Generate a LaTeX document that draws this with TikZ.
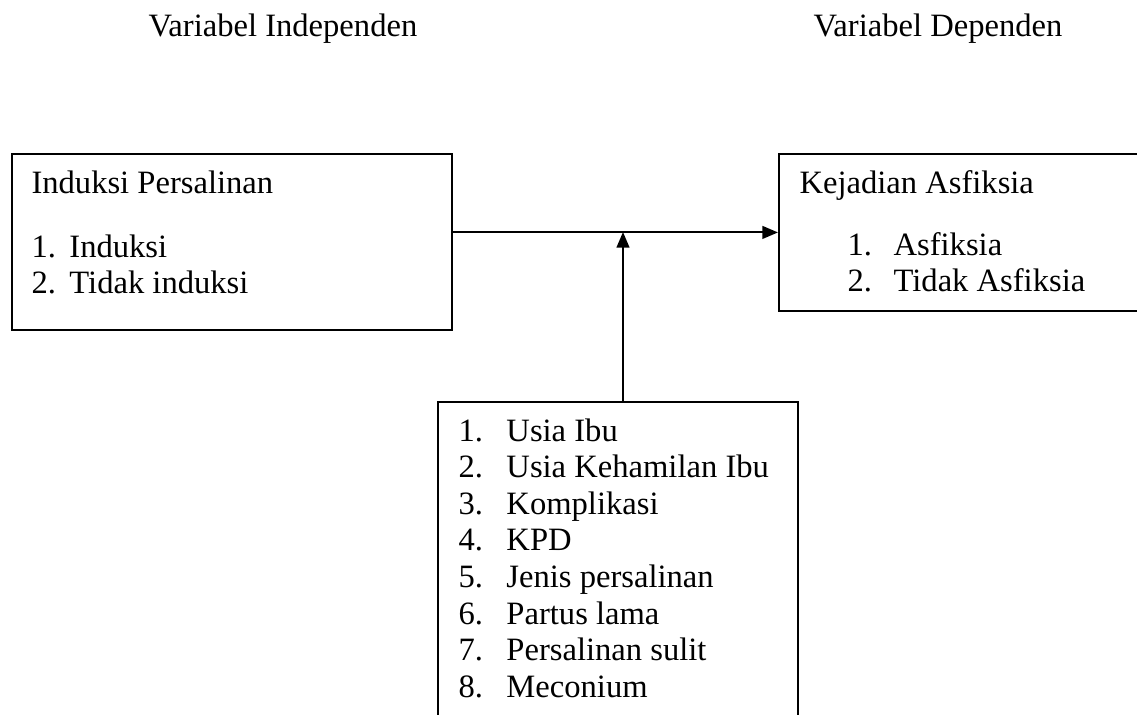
\documentclass[tikz,border=0pt]{standalone}
\usepackage{fontspec}
\setmainfont{Liberation Serif}
\usetikzlibrary{arrows.meta}
\begin{document}
\begin{tikzpicture}
    [
        x=0.3774pt, y=-0.3774pt,
        box/.style = {draw, shape=rectangle, anchor=north west, inner sep=0pt, line width=0.75pt},
        txt/.style = {anchor=base west, inner sep=0pt, font=\fontsize{12.3}{14}\selectfont},
        arr/.style = {-{Triangle[length=5.9pt,width=4.8pt]}, line width=0.75pt},
    ]
    \useasboundingbox (0,0) rectangle (1137,715);
    \clip (0,0) rectangle (1137,715);

    \node[txt] (tInd) at (148,36) {Variabel Independen};
    \node[txt] (tDep) at (813,36) {Variabel Dependen};

    \node[box, minimum width=166pt, minimum height=66.4pt] (induksi) at (11,153) {};
    \node[txt] (induksi0) at (31,193) {Induksi Persalinan};
    \node[txt] (induksi1) at (31,257) {\makebox[14.3pt][l]{1.}Induksi};
    \node[txt] (induksi2) at (31,293.5) {\makebox[14.3pt][l]{2.}Tidak induksi};

    \node[box, minimum width=145pt, minimum height=59.2pt] (asfiksia) at (778,153) {};
    \node[txt] (asfiksia0) at (799,193) {Kejadian Asfiksia};
    \node[txt] (asfiksia1) at (847,255) {\makebox[17.4pt][l]{1.}Asfiksia};
    \node[txt] (asfiksia2) at (847,291.5) {\makebox[17.4pt][l]{2.}Tidak Asfiksia};

    \node[box, minimum width=135.9pt, minimum height=130pt] (faktor) at (437,401) {};
    \node[txt] (faktor1) at (458,441) {\makebox[18.1pt][l]{1.}Usia Ibu};
    \node[txt] (faktor2) at (458,477.6) {\makebox[18.1pt][l]{2.}Usia Kehamilan Ibu};
    \node[txt] (faktor3) at (458,514.2) {\makebox[18.1pt][l]{3.}Komplikasi};
    \node[txt] (faktor4) at (458,550.8) {\makebox[18.1pt][l]{4.}KPD};
    \node[txt] (faktor5) at (458,587.4) {\makebox[18.1pt][l]{5.}Jenis persalinan};
    \node[txt] (faktor6) at (458,624) {\makebox[18.1pt][l]{6.}Partus lama};
    \node[txt] (faktor7) at (458,660.6) {\makebox[18.1pt][l]{7.}Persalinan sulit};
    \node[txt] (faktor8) at (458,697.2) {\makebox[18.1pt][l]{8.}Meconium};

    \coordinate (join) at (623,232);

    \draw [arr] (induksi.east |- asfiksia.west) -- (asfiksia.west);
    \draw [arr] (faktor.north -| join) -- (join);
\end{tikzpicture}
\end{document}
